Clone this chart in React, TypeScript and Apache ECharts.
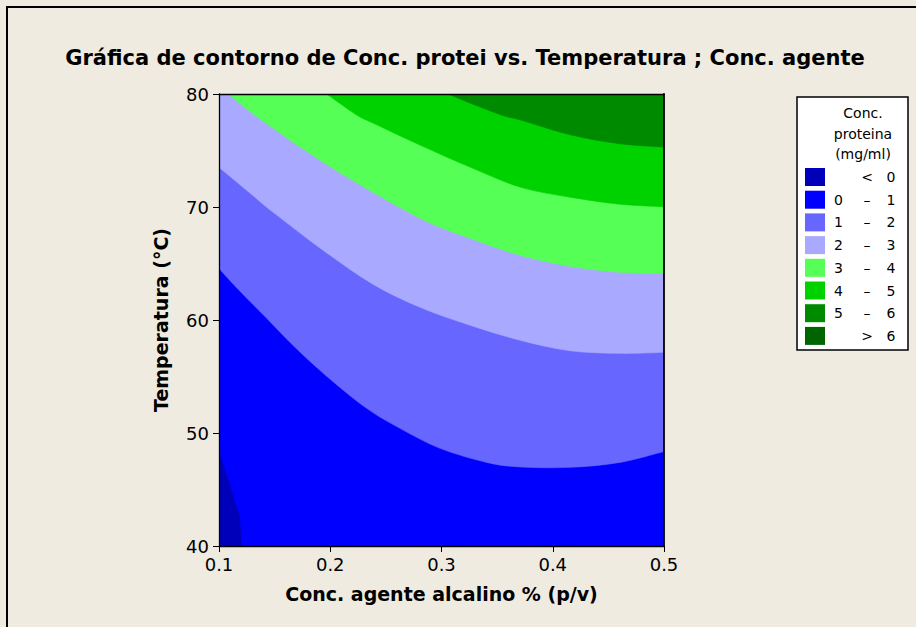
import React, { useEffect, useRef } from "react";
import * as echarts from "echarts";

// ---- data ----
const xTicks = [0.1, 0.2, 0.3, 0.4, 0.5];
const yTicks = [40, 50, 60, 70, 80];

const levelLow = ["", "0", "1", "2", "3", "4", "5", ""];
const levelSep = ["<", "–", "–", "–", "–", "–", "–", ">"];
const levelHigh = ["0", "1", "2", "3", "4", "5", "6", "6"];
const levelColors = ["#0000BB", "#0000FF", "#6767FF", "#A9A9FF", "#55FF55", "#00D200", "#008A00", "#006400"];

// contour lines [Conc. agente, Temperatura] separating level i (below) and i+1 (above)
const contour0 = [[0.1, 48.4], [0.107, 46.4], [0.116, 43.5], [0.119, 42.5], [0.1205, 40]];
const contour1 = [[0.1, 64.56], [0.1189, 62.55], [0.1429, 60.15], [0.1665, 57.76], [0.1968, 55.02], [0.2328, 52.18], [0.2627, 50.41], [0.2987, 48.64], [0.3406, 47.4], [0.3706, 47.0], [0.4155, 46.96], [0.4604, 47.4], [0.5, 48.37]];
const contour2 = [[0.1, 73.51], [0.1279, 71.23], [0.1485, 69.55], [0.1935, 66.18], [0.2384, 63.17], [0.2807, 61.13], [0.3256, 59.54], [0.3706, 58.21], [0.4155, 57.28], [0.4604, 57.05], [0.5, 57.14]];
const contour3 = [[0.1081, 80], [0.1297, 78.32], [0.1522, 76.72], [0.1728, 75.31], [0.2151, 72.65], [0.2807, 69.01], [0.3256, 67.24], [0.3706, 65.73], [0.4155, 64.76], [0.4604, 64.22], [0.5, 64.11]];
const contour4 = [[0.1968, 80], [0.2238, 78.14], [0.2384, 77.43], [0.2807, 75.48], [0.3256, 73.53], [0.3706, 71.76], [0.4155, 70.87], [0.4604, 70.25], [0.5, 70.02]];
const contour5 = [[0.306, 80], [0.3255, 79.2], [0.355, 78.1], [0.371, 77.7], [0.4155, 76.4], [0.46, 75.6], [0.5, 75.3]];

const contours = [contour0, contour1, contour2, contour3, contour4, contour5];

const titleText = "Gráfica de contorno de Conc. protei vs. Temperatura ; Conc. agente";
const xName = "Conc. agente alcalino % (p/v)";
const yName = "Temperatura (°C)";
const legendTitle = ["Conc.", "proteina", "(mg/ml)"];

const FONT = "'DejaVu Sans', Tahoma, Verdana, sans-serif";

const xMin = xTicks[0];
const xMax = xTicks[xTicks.length - 1];
const yMin = yTicks[0];
const yMax = yTicks[yTicks.length - 1];

const levelName = (i: number) => `${levelLow[i]} ${levelSep[i]} ${levelHigh[i]}`.trim();

// frame corners (data space) to close the region above a contour line
function closingCorners(curve: number[][]): number[][] {
  const eps = 1e-9;
  const perim = (p: number[]) => {
    const [x, y] = p;
    if (Math.abs(y - yMin) < eps) return (x - xMin) / (xMax - xMin);
    if (Math.abs(x - xMax) < eps) return 1 + (y - yMin) / (yMax - yMin);
    if (Math.abs(y - yMax) < eps) return 2 + (xMax - x) / (xMax - xMin);
    return 3 + (yMax - y) / (yMax - yMin);
  };
  const corners = [[xMin, yMin], [xMax, yMin], [xMax, yMax], [xMin, yMax]];
  const tE = perim(curve[curve.length - 1]);
  let tS = perim(curve[0]);
  if (tS <= tE) tS += 4;
  const out: number[][] = [];
  for (let k = Math.ceil(tE); k < tS; k++) out.push(corners[k % 4]);
  return out;
}

// smooth (Catmull-Rom → cubic Bézier) path through pixel points
function smoothPath(pts: number[][]): string {
  const f = (v: number) => v.toFixed(2);
  let d = `M${f(pts[0][0])},${f(pts[0][1])}`;
  for (let i = 0; i < pts.length - 1; i++) {
    const p0 = pts[Math.max(0, i - 1)];
    const p1 = pts[i];
    const p2 = pts[i + 1];
    const p3 = pts[Math.min(pts.length - 1, i + 2)];
    const c1x = p1[0] + (p2[0] - p0[0]) / 6;
    const c1y = p1[1] + (p2[1] - p0[1]) / 6;
    const c2x = p2[0] - (p3[0] - p1[0]) / 6;
    const c2y = p2[1] - (p3[1] - p1[1]) / 6;
    d += ` C${f(c1x)},${f(c1y)} ${f(c2x)},${f(c2y)} ${f(p2[0])},${f(p2[1])}`;
  }
  return d;
}

export default function App() {
  const ref = useRef<HTMLDivElement>(null);
  useEffect(() => {
    if (!ref.current) return;
    const chart = echarts.init(ref.current, null, { renderer: "svg" });

    const fullRect = [[xMin, yMin], [xMax, yMin], [xMax, yMax], [xMin, yMax]];
    const series = levelColors.map((color, i) => {
      const curve = i === 0 ? null : contours[i - 1];
      const data = i === 0 ? fullRect : curve || [];
      return {
        type: "custom",
        name: levelName(i),
        coordinateSystem: "cartesian2d",
        xAxisIndex: 0,
        yAxisIndex: 0,
        itemStyle: { color },
        data,
        clip: true,
        silent: true,
        renderItem: (params: any, api: any) => {
          if (params.dataIndex !== 0 || data.length < 2) return null;
          let d: string;
          if (!curve) {
            const p = fullRect.map((q) => api.coord(q));
            d = `M${p[0][0]},${p[0][1]} L${p[1][0]},${p[1][1]} L${p[2][0]},${p[2][1]} L${p[3][0]},${p[3][1]} Z`;
          } else {
            const px = curve.map((q) => api.coord(q));
            d = smoothPath(px);
            closingCorners(curve).forEach((c) => {
              const q = api.coord(c);
              d += ` L${q[0].toFixed(2)},${q[1].toFixed(2)}`;
            });
            d += " Z";
          }
          return {
            type: "path",
            shape: { pathData: d },
            style: { fill: color, stroke: color, lineWidth: 0.6 },
          };
        },
      };
    });

    const axisText = { color: "#000", fontSize: 18, fontFamily: FONT };
    const nameText = { color: "#000", fontSize: 19, fontWeight: "bold", fontFamily: FONT };

    chart.setOption({
      animation: false,
      backgroundColor: "#EFEBE1",
      title: {
        text: titleText,
        left: 460,
        textAlign: "center",
        top: 42,
        textStyle: { color: "#000", fontSize: 21, fontWeight: "bold", fontFamily: FONT },
      },
      grid: { left: 219, top: 94, width: 445, height: 452, containLabel: false },
      xAxis: [
        {
          type: "value",
          min: xMin,
          max: xMax,
          interval: 0.1,
          z: 5,
          name: xName,
          nameLocation: "middle",
          nameGap: 38,
          nameTextStyle: nameText,
          axisLine: { show: true, onZero: false, lineStyle: { color: "#000", width: 1.3 } },
          axisTick: { show: true, inside: false, length: 6, lineStyle: { color: "#000" } },
          axisLabel: { ...axisText, margin: 9, formatter: (v: number) => v.toFixed(1) },
          splitLine: { show: false },
        },
        {
          type: "value",
          position: "top",
          min: xMin,
          max: xMax,
          interval: 0.1,
          z: 5,
          axisLine: { show: true, onZero: false, lineStyle: { color: "#000", width: 1.3 } },
          axisTick: { show: false },
          axisLabel: { show: false },
          splitLine: { show: false },
        },
      ],
      yAxis: [
        {
          type: "value",
          min: yMin,
          max: yMax,
          interval: 10,
          z: 5,
          name: yName,
          nameLocation: "middle",
          nameGap: 49,
          nameRotate: 90,
          nameTextStyle: nameText,
          axisLine: { show: true, onZero: false, lineStyle: { color: "#000", width: 1.3 } },
          axisTick: { show: true, inside: false, length: 6, lineStyle: { color: "#000" } },
          axisLabel: { ...axisText, margin: 10 },
          splitLine: { show: false },
        },
        {
          type: "value",
          position: "right",
          min: yMin,
          max: yMax,
          interval: 10,
          z: 5,
          axisLine: { show: true, onZero: false, lineStyle: { color: "#000", width: 1.8 } },
          axisTick: { show: false },
          axisLabel: { show: false },
          splitLine: { show: false },
        },
      ],
      legend: {
        orient: "vertical",
        left: 805,
        top: 168,
        z: 10,
        padding: 0,
        itemWidth: 20,
        itemHeight: 18,
        itemGap: 4.7,
        icon: "rect",
        selectedMode: false,
        data: levelColors.map((_, i) => levelName(i)),
        formatter: (name: string) => {
          const i = levelColors.findIndex((_, k) => levelName(k) === name);
          return `{a|${levelLow[i]}}{b|${levelSep[i]}}{c|${levelHigh[i]}}`;
        },
        textStyle: {
          color: "#000",
          fontSize: 14,
          fontFamily: FONT,
          rich: {
            a: { width: 17, align: "center", fontSize: 14, fontFamily: FONT, color: "#000" },
            b: { width: 40, align: "center", fontSize: 14, fontFamily: FONT, color: "#000" },
            c: { width: 8, align: "center", fontSize: 14, fontFamily: FONT, color: "#000" },
          },
        },
      },
      graphic: [
        {
          type: "rect",
          z: 1,
          silent: true,
          shape: { x: 7, y: 7, width: 1000, height: 700 },
          style: { fill: "none", stroke: "#000", lineWidth: 2 },
        },
        {
          type: "rect",
          z: 1,
          silent: true,
          shape: { x: 797, y: 97, width: 111, height: 253 },
          style: { fill: "#FFFFFF", stroke: "#000", lineWidth: 1.5 },
        },
        ...legendTitle.map((t, i) => ({
          type: "text",
          z: 2,
          silent: true,
          x: 863,
          y: 113 + i * 20.5,
          style: {
            text: t,
            fill: "#000",
            font: `14px ${FONT}`,
            textAlign: "center",
            textVerticalAlign: "middle",
          },
        })),
      ],
      series,
    });
    return () => chart.dispose();
  }, []);

  return (
    <div
      ref={ref}
      style={{ position: "fixed", left: 0, top: 0, width: 916, height: 627 }}
    />
  );
}
